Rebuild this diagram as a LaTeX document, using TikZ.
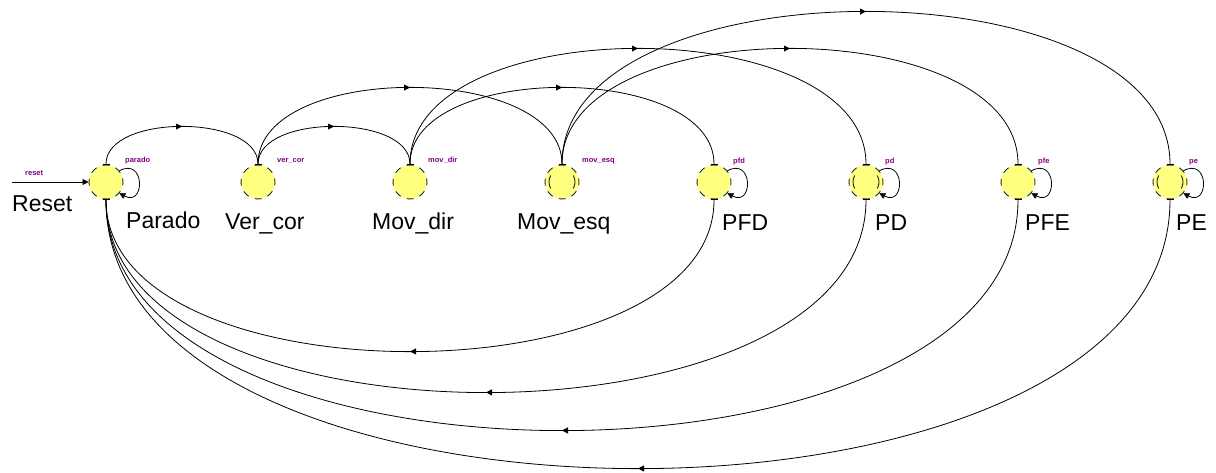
\documentclass[tikz,border=0pt]{standalone}
\usepackage{fontspec}
\setmainfont{Liberation Sans}
\usetikzlibrary{arrows.meta,decorations.markings}
\definecolor{stfill}{RGB}{255,255,128}
\definecolor{tagpurple}{RGB}{128,0,128}
\tikzset{
  state/.style={circle, fill=stfill, minimum size=34pt, inner sep=0pt,
    draw=black!85, line width=0.9pt, dash pattern=on 7pt off 6.35pt, dash phase=3.5pt},
  ring/.style={draw=black!85, line width=0.9pt},
  lbl/.style={font=\fontsize{23}{26}\selectfont, anchor=base west, inner sep=0pt},
  tag/.style={font=\fontsize{7.5}{9}\selectfont\bfseries, text=tagpurple,
    anchor=base west, inner sep=0pt},
  trans/.style={line width=0.8pt, {Bar[width=7pt]}-{Bar[width=7pt]},
    decoration={markings, mark=at position 0.5 with
      {\arrow{Triangle[length=6pt,width=6pt]}}},
    postaction={decorate}},
  selfloop/.style={line width=0.8pt, -{Triangle[length=6pt,width=6pt]}},
  resetline/.style={line width=0.8pt, -{Triangle[length=6pt,width=6pt]}},
}
\begin{document}
\begin{tikzpicture}[x=1pt, y=-1pt]
  \useasboundingbox (0,0) rectangle (1216,473);

  % states
  \node[state] (parado) at (106,182) {};
  \node[state] (vercor) at (258,182) {};
  \node[state] (movdir) at (410,182) {};
  \node[state] (movesq) at (562,182) {};
  \node[state] (pfd)    at (714,182) {};
  \node[state] (pd)     at (866,182) {};
  \node[state] (pfe)    at (1018,182) {};
  \node[state] (pe)     at (1170,182) {};

  % inner rings of the states with two marks
  \foreach \s in {movesq, pd, pe} {
    \draw[ring] (\s.center) ++(150:13) arc (150:210:13);
    \draw[ring] (\s.center) ++(-30:13) arc (-30:30:13);
  }

  % state names
  \node[lbl] (tparado) at (126,229) {Parado};
  \node[lbl] (tvercor) at (225,230) {Ver\_cor};
  \node[lbl] (tmovdir) at (372,230) {Mov\_dir};
  \node[lbl] (tmovesq) at (517,230) {Mov\_esq};
  \node[lbl] (tpfd)    at (722,231) {PFD};
  \node[lbl] (tpd)     at (875,231) {PD};
  \node[lbl] (tpfe)    at (1025,231) {PFE};
  \node[lbl] (tpe)     at (1176,231) {PE};
  \node[lbl] (treset)  at (12,212) {Reset};

  % output tags
  \node[tag] (gparado) at (125,163) {parado};
  \node[tag] (gvercor) at (277,163) {ver\_cor};
  \node[tag] (gmovdir) at (428,163) {mov\_dir};
  \node[tag] (gmovesq) at (582,163) {mov\_esq};
  \node[tag] (gpfd)    at (733,164) {pfd};
  \node[tag] (gpd)     at (885,164) {pd};
  \node[tag] (gpfe)    at (1038,164) {pfe};
  \node[tag] (gpe)     at (1189,164) {pe};
  \node[tag] (greset)  at (25,176) {reset};

  % reset entry
  \coordinate (rst) at (12,182);
  \draw[resetline] (rst) -- (parado.west);

  % self loops
  \foreach \s in {parado, pfd, pd, pfe, pe} {
    \draw[selfloop] (\s.40) .. controls +(26,-14) and +(26,14) .. (\s.-40);
  }

  % forward transitions over the top
  \draw[trans] (parado.north) .. controls +(0,-50.7) and +(0,-50.7) .. (vercor.north);
  \draw[trans] (vercor.north) .. controls +(0,-50.7) and +(0,-50.7) .. (movdir.north);
  \draw[trans] (vercor.north) .. controls +(0,-102.7) and +(0,-102.7) .. (movesq.north);
  \draw[trans] (movdir.north) .. controls +(0,-102.7) and +(0,-102.7) .. (pfd.north);
  \draw[trans] (movdir.north) .. controls +(0,-154.7) and +(0,-154.7) .. (pd.north);
  \draw[trans] (movesq.north) .. controls +(0,-154.7) and +(0,-154.7) .. (pfe.north);
  \draw[trans] (movesq.north) .. controls +(0,-204) and +(0,-204) .. (pe.north);

  % returns to Parado underneath
  \draw[trans] (pfd.south) .. controls +(0,202.7) and +(0,202.7) .. (parado.south);
  \draw[trans] (pd.south)  .. controls +(0,257.3) and +(0,257.3) .. (parado.south);
  \draw[trans] (pfe.south) .. controls +(0,308) and +(0,308) .. (parado.south);
  \draw[trans] (pe.south)  .. controls +(0,358.7) and +(0,358.7) .. (parado.south);
\end{tikzpicture}
\end{document}
